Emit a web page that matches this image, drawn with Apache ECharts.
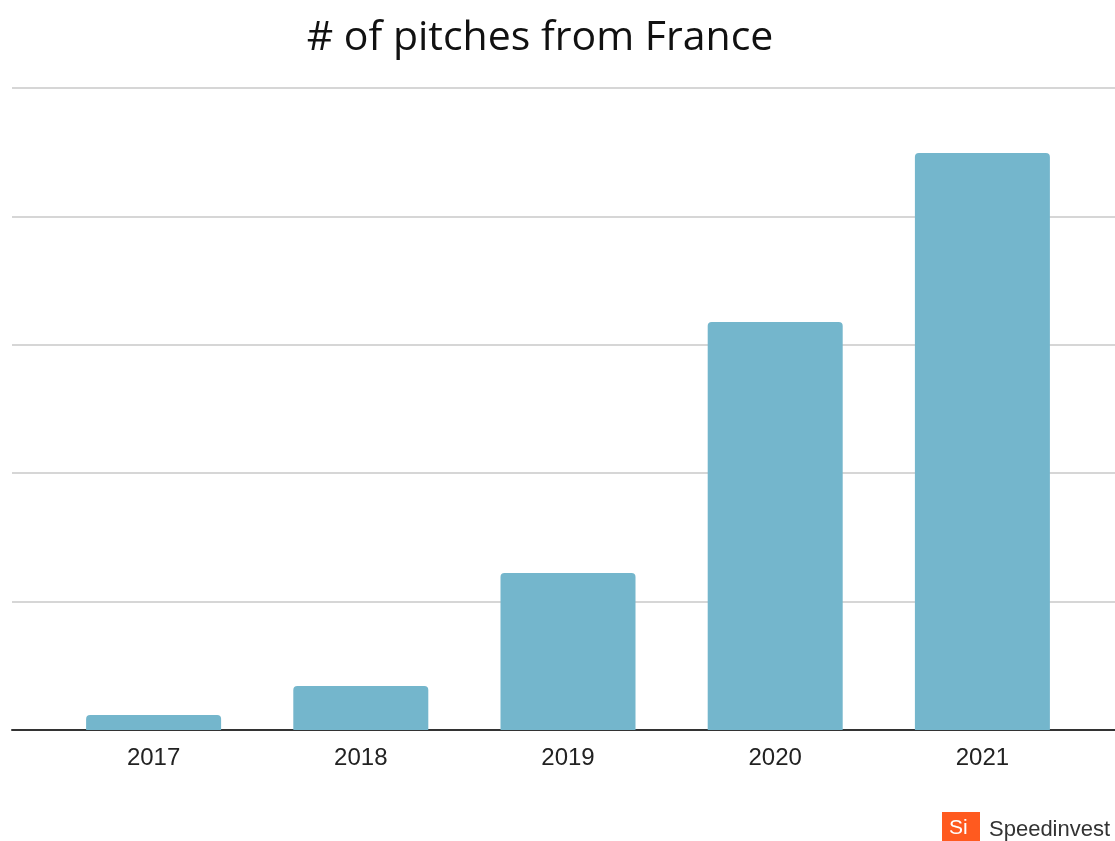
<!DOCTYPE html>
<html><head><meta charset="utf-8">
<script src="https://cdn.jsdelivr.net/npm/echarts@6/dist/echarts.min.js"></script>
<style>html,body{margin:0;padding:0;background:#fff}#c{width:1115px;height:841px}</style>
</head><body><div id="c"></div>
<script>
const titleText = '# of pitches from France';
const years = ['2017', '2018', '2019', '2020', '2021'];
const pitches = [11.7, 34.3, 122.3, 317.8, 449.4];
const yMax = 500;
const yStep = 100;

const chart = echarts.init(document.getElementById('c'));
chart.setOption({
  backgroundColor: '#ffffff',
  animation: false,
  title: {
    text: titleText, left: 535, top: 13, textAlign: 'center',
    textStyle: {fontFamily: 'Open Sans', fontWeight: 'normal', fontSize: 41, color: '#111'}
  },
  grid: [
    {left: 50, right: 29, top: 88, bottom: 111},
    {left: 12, right: 0, top: 88, bottom: 111}
  ],
  xAxis: [
    {type: 'category', data: years, gridIndex: 0,
     axisLine: {show: false}, axisTick: {show: false},
     axisLabel: {fontFamily: 'Liberation Sans', fontSize: 24, color: '#222', margin: 16}},
    {type: 'value', gridIndex: 1, min: 0, max: 1, show: true,
     axisLine: {show: true, onZero: false, lineStyle: {color: '#333', width: 2}},
     axisTick: {show: false}, axisLabel: {show: false}, splitLine: {show: false}}
  ],
  yAxis: [
    {type: 'value', gridIndex: 0, min: 0, max: yMax, interval: yStep,
     axisLabel: {show: false}, axisLine: {show: false}, axisTick: {show: false}, splitLine: {show: false}},
    {type: 'value', gridIndex: 1, min: 0, max: yMax, interval: yStep,
     axisLabel: {show: false}, axisLine: {show: false}, axisTick: {show: false},
     splitLine: {show: true, lineStyle: {color: '#d6d6d6', width: 2}}}
  ],
  series: [{
    type: 'bar', xAxisIndex: 0, yAxisIndex: 0, data: pitches, barWidth: 135, z: 3,
    itemStyle: {color: '#74b6cc', borderRadius: [4, 4, 0, 0]}
  }],
  graphic: [
    {type: 'rect', left: 942, top: 812, shape: {width: 38, height: 32}, style: {fill: '#ff5a1f'}},
    {type: 'text', left: 949, top: 818, style: {text: 'Si', fill: '#fff', font: '21px "Liberation Sans"'}},
    {type: 'text', left: 989, top: 819, style: {text: 'Speedinvest', fill: '#333', font: '22px "Liberation Sans"'}}
  ]
});
</script></body></html>
